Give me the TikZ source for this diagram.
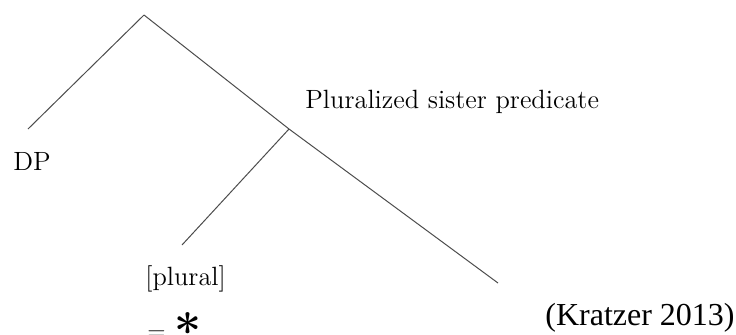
\documentclass[tikz,border=0pt]{standalone}
\usepackage{fontspec}
\newfontfamily\timesfont{Liberation Serif}
\tikzset{
  branch/.style={line width=0.5pt,draw=black!70},
  lbl/.style={inner sep=0pt,anchor=base west,font=\fontsize{13.2}{15}\selectfont}
}
\begin{document}
\begin{tikzpicture}[x=0.5pt,y=-0.5pt]
  \useasboundingbox (0,0) rectangle (736,334);
  \coordinate (root) at (144,15);
  \coordinate (pred) at (289,129);
  \coordinate (dpstem) at (28,129);
  \coordinate (plstem) at (182,245);
  \coordinate (predend) at (498,283);
  \draw[branch] (root) -- (dpstem);
  \draw[branch] (root) -- (pred) -- (predend);
  \draw[branch] (pred) -- (plstem);
  \node[lbl] (dp) at (13,170) {DP};
  \node[lbl] (predlbl) at (305,108) {Pluralized sister predicate};
  \node[lbl] (plural) at (145,285) {[plural]};
  % value of the plural feature
  \node[lbl] (eq) at (147,339) {$=$ \raisebox{-4.5pt}{\fontsize{24}{26}\selectfont\bfseries *}};
  \node[inner sep=0pt,anchor=base west,font=\timesfont\fontsize{16}{18}\selectfont] (cite) at (545,325) {(Kratzer 2013)};
\end{tikzpicture}
\end{document}
